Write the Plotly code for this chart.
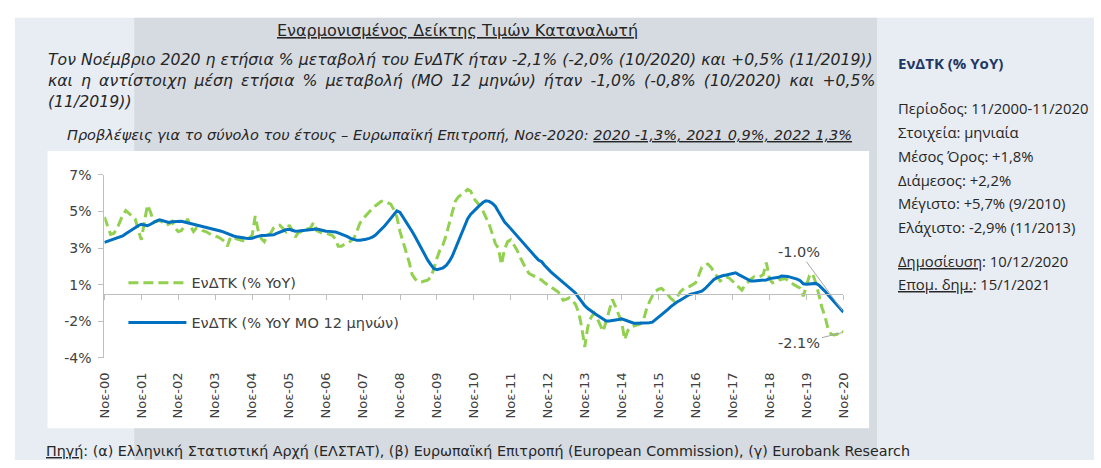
"""Greek HICP (ΕνΔΤΚ) yearly change chart with its text panel."""

import pandas as pd
import plotly.graph_objects as go

FIG_W = 1101
FIG_H = 468

START_MONTH = "2000-11-01"

# ΕνΔΤΚ % YoY, monthly from 11/2000 to 11/2020
HICP_YOY = [
    4.20, 3.70, 3.25, 3.30, 3.50, 3.90, 4.30, 4.55, 4.40, 4.25, 4.10, 3.50,
    2.95, 3.90, 4.85, 4.45, 3.95, 3.95, 4.00, 3.90, 3.75, 3.80, 3.95, 3.60,
    3.40, 3.45, 3.70, 4.10, 3.70, 3.40, 3.60, 3.55, 3.45, 3.40, 3.30, 3.20,
    3.15, 3.10, 3.00, 2.85, 2.60, 3.10, 3.05, 3.00, 2.95, 2.90, 2.90, 3.05,
    3.20, 4.25, 3.40, 3.00, 2.85, 3.20, 3.30, 3.60, 3.70, 3.75, 3.55, 3.40,
    3.75, 3.50, 3.10, 3.35, 3.40, 3.50, 3.55, 3.60, 3.90, 3.45, 3.35, 3.30,
    3.30, 3.25, 3.20, 3.00, 2.60, 2.60, 2.70, 2.75, 2.85, 3.00, 3.40, 3.85,
    4.10, 4.30, 4.45, 4.65, 4.80, 4.95, 5.05, 5.06, 5.00, 4.90, 4.60, 4.20,
    3.40, 2.85, 2.30, 1.70, 1.05, 0.80, 0.65, 0.65, 0.70, 0.75, 0.90, 1.35,
    1.95, 2.40, 2.70, 3.20, 3.80, 4.50, 5.05, 5.30, 5.45, 5.55, 5.70, 5.60,
    5.20, 5.00, 4.80, 4.50, 4.20, 3.80, 3.30, 2.75, 2.50, 1.60, 2.45, 2.85,
    2.95, 2.70, 2.40, 2.00, 1.65, 1.35, 1.10, 1.00, 0.92, 0.85, 0.75, 0.60,
    0.49, 0.35, 0.25, 0.14, 0.00, -0.35, -0.30, -0.22, -0.35, -0.57, -1.00, -1.80,
    -2.90, -1.80, -1.30, -1.05, -1.30, -1.65, -2.05, -1.50, -0.92, -0.30, -0.70, -1.10,
    -1.55, -2.50, -2.00, -1.80, -1.75, -1.70, -1.65, -1.50, -0.90, -0.45, -0.10, 0.14,
    0.25, 0.30, 0.15, -0.05, -0.25, -0.39, -0.20, 0.10, 0.25, 0.35, 0.40, 0.50,
    0.60, 1.00, 1.45, 1.55, 1.63, 1.45, 1.20, 0.95, 0.70, 0.80, 0.93, 0.85,
    0.70, 0.55, 0.35, 0.20, 0.45, 0.66, 0.80, 0.93, 0.90, 0.95, 1.05, 1.71,
    0.80, 0.60, 0.65, 0.75, 0.80, 0.84, 0.75, 0.60, 0.50, 0.40, 0.30, -0.13,
    0.50, 1.00, 1.10, 0.60, 0.00, -0.74, -1.20, -1.90, -2.20, -2.25, -2.20, -2.00,
    -2.10,
]

# ΕνΔΤΚ % YoY, 12-month average
HICP_YOY_12M = [
    2.81, 2.87, 2.93, 3.00, 3.05, 3.10, 3.16, 3.28, 3.40, 3.52, 3.62, 3.72,
    3.80, 3.74, 3.72, 3.80, 3.90, 3.98, 4.04, 3.98, 3.92, 3.90, 3.93, 3.95,
    3.97, 3.96, 3.92, 3.88, 3.82, 3.80, 3.77, 3.74, 3.70, 3.65, 3.60, 3.57,
    3.54, 3.48, 3.42, 3.35, 3.28, 3.22, 3.16, 3.12, 3.08, 3.05, 3.03, 3.02,
    3.03, 3.10, 3.16, 3.19, 3.19, 3.20, 3.20, 3.22, 3.30, 3.38, 3.45, 3.50,
    3.52, 3.47, 3.42, 3.43, 3.45, 3.47, 3.48, 3.50, 3.52, 3.54, 3.50, 3.45,
    3.42, 3.41, 3.40, 3.38, 3.33, 3.27, 3.21, 3.12, 3.03, 2.96, 2.92, 2.93,
    2.95, 2.98, 3.03, 3.09, 3.20, 3.35, 3.52, 3.70, 3.90, 4.10, 4.35, 4.53,
    4.45, 4.20, 3.95, 3.70, 3.40, 3.10, 2.77, 2.45, 2.12, 1.85, 1.60, 1.38,
    1.32, 1.35, 1.42, 1.55, 1.75, 2.05, 2.45, 2.85, 3.30, 3.75, 4.10, 4.35,
    4.50, 4.68, 4.85, 5.00, 5.08, 5.05, 4.95, 4.78, 4.50, 4.20, 3.92, 3.75,
    3.55, 3.38, 3.20, 3.00, 2.80, 2.58, 2.38, 2.20, 2.03, 1.85, 1.75, 1.55,
    1.35, 1.20, 1.05, 0.90, 0.75, 0.65, 0.50, 0.35, 0.20, 0.05, -0.20, -0.45,
    -0.65, -0.80, -0.95, -1.05, -1.15, -1.25, -1.38, -1.48, -1.48, -1.46, -1.45, -1.40,
    -1.36, -1.42, -1.52, -1.58, -1.60, -1.60, -1.60, -1.58, -1.60, -1.58, -1.55, -1.42,
    -1.30, -1.15, -1.00, -0.85, -0.70, -0.55, -0.45, -0.35, -0.25, -0.12, -0.04, 0.00,
    0.05, 0.10, 0.14, 0.28, 0.45, 0.62, 0.78, 0.88, 0.95, 1.00, 1.03, 1.08,
    1.12, 1.15, 1.05, 0.95, 0.85, 0.75, 0.70, 0.70, 0.71, 0.70, 0.72, 0.76,
    0.83, 0.84, 0.86, 0.90, 0.97, 0.98, 0.95, 0.90, 0.87, 0.80, 0.72, 0.55,
    0.52, 0.55, 0.58, 0.57, 0.48, 0.33, 0.15, -0.05, -0.25, -0.45, -0.63, -0.82,
    -1.00,
]

SERIES_NAMES = ["ΕνΔΤΚ (% YoY)", "ΕνΔΤΚ (% YoY ΜΟ 12 μηνών)"]
END_LABELS = ["-2.1%", "-1.0%"]

X_TICK_TEXT = [
    "Νοε-00", "Νοε-01", "Νοε-02", "Νοε-03", "Νοε-04", "Νοε-05", "Νοε-06",
    "Νοε-07", "Νοε-08", "Νοε-09", "Νοε-10", "Νοε-11", "Νοε-12", "Νοε-13",
    "Νοε-14", "Νοε-15", "Νοε-16", "Νοε-17", "Νοε-18", "Νοε-19", "Νοε-20",
]
# the source chart has its ticks at half values and rounds the labels
Y_TICK_VALS = [-3.5, -1.5, 0.5, 2.5, 4.5, 6.5]
Y_TICK_TEXT = ["-4%", "-2%", "1%", "3%", "5%", "7%"]

TITLE = "Εναρμονισμένος Δείκτης Τιμών Καταναλωτή"
SUMMARY_LINES = [
    "Τον Νοέμβριο 2020 η ετήσια % μεταβολή του ΕνΔΤΚ ήταν -2,1% (-2,0% (10/2020) και +0,5% (11/2019))",
    "και η αντίστοιχη μέση ετήσια % μεταβολή (ΜΟ 12 μηνών) ήταν -1,0% (-0,8% (10/2020) και +0,5%",
    "(11/2019))",
]
FORECAST_TEXT = "Προβλέψεις για το σύνολο του έτους – Ευρωπαϊκή Επιτροπή, Νοε-2020: "
FORECAST_VALUES = "2020 -1,3%, 2021 0,9%, 2022 1,3%"
SIDE_HEADER = "ΕνΔΤΚ (% YoY)"
SIDE_STATS = [
    "Περίοδος: 11/2000-11/2020",
    "Στοιχεία: μηνιαία",
    "Μέσος Όρος: +1,8%",
    "Διάμεσος: +2,2%",
    "Μέγιστο: +5,7% (9/2010)",
    "Ελάχιστο: -2,9% (11/2013)",
]
SIDE_DATES = [("Δημοσίευση", ": 10/12/2020"), ("Επομ. δημ.", ": 15/1/2021")]
SOURCE_TEXT = (
    ": (α) Ελληνική Στατιστική Αρχή (ΕΛΣΤΑΤ), (β) Ευρωπαϊκή Επιτροπή "
    "(European Commission), (γ) Eurobank Research"
)

GREEN = "#92d050"
BLUE = "#0070c0"
AXIS_GREY = "#bfbfbf"
TEXT_GREY = "#404040"
FONT = "Open Sans"
WIDE = "DejaVu Sans"


def px(x: float) -> float:
    return x / FIG_W


def py(y: float) -> float:
    return 1 - y / FIG_H


def note(text, x, y, size=14, color="#262626", xanchor="left", family=FONT):
    return dict(
        text=text, x=px(x), y=py(y), xref="paper", yref="paper",
        xanchor=xanchor, yanchor="middle", showarrow=False,
        font=dict(family=family, size=size, color=color),
    )


def justify(line: str) -> str:
    # the report text is justified; widen the word gaps a little
    return line.replace(" ", " \u2009")


months = pd.date_range(START_MONTH, periods=len(HICP_YOY), freq="MS")
year_ticks = list(months[::12])

fig = go.Figure()

fig.add_trace(
    go.Scatter(
        x=months, y=HICP_YOY, name=SERIES_NAMES[0], mode="lines",
        line=dict(color=GREEN, width=3, dash="10px,5px"),
        legendgroup="a",
    )
)
fig.add_trace(
    go.Scatter(
        x=months, y=HICP_YOY_12M, name=SERIES_NAMES[1], mode="lines",
        line=dict(color=BLUE, width=3), xaxis="x2",
        legendgroup="b",
    )
)

plot_x0, plot_x1 = 97.7, 847.0
plot_top, plot_bottom = 172.7, 362.3
zero_y = 295.9

fig.update_layout(
    width=FIG_W,
    height=FIG_H,
    margin=dict(l=0, r=0, t=0, b=0),
    paper_bgcolor="white",
    plot_bgcolor="rgba(0,0,0,0)",
    font=dict(family=FONT, color=TEXT_GREY),
    xaxis=dict(
        domain=[px(plot_x0), px(plot_x1)],
        range=[months[0], months[-1]],
        tickvals=year_ticks, ticktext=X_TICK_TEXT,
        tickangle=-90, ticks="", showline=False, showgrid=False,
        zeroline=False, ticklabelstandoff=11,
        tickfont=dict(family=WIDE, size=13, color=TEXT_GREY),
    ),
    xaxis2=dict(
        overlaying="x", matches="x", anchor="free",
        position=py(zero_y),
        tickvals=year_ticks, showticklabels=False,
        ticks="outside", ticklen=5, tickcolor=AXIS_GREY,
        showline=True, linecolor=AXIS_GREY, linewidth=1,
        showgrid=False, zeroline=False,
    ),
    yaxis=dict(
        domain=[py(plot_bottom), py(plot_top)],
        range=[Y_TICK_VALS[0], Y_TICK_VALS[-1]],
        tickvals=Y_TICK_VALS, ticktext=Y_TICK_TEXT,
        ticks="outside", ticklen=5, tickcolor=AXIS_GREY,
        showline=True, linecolor=AXIS_GREY, linewidth=1,
        showgrid=False, zeroline=False, ticklabelstandoff=4,
        tickfont=dict(family=WIDE, size=14, color=TEXT_GREY),
    ),
    legend=dict(
        x=px(117), y=py(268), xanchor="left", yanchor="top",
        bgcolor="rgba(0,0,0,0)", tracegroupgap=18, itemwidth=58,
        font=dict(family=WIDE, size=14.5, color=TEXT_GREY),
    ),
    showlegend=True,
)

# background panels
fig.add_shape(type="rect", xref="paper", yref="paper", layer="below",
              x0=px(7), x1=1, y0=0, y1=py(10), line_width=0,
              fillcolor="#e8ecf3")
fig.add_shape(type="rect", xref="paper", yref="paper", layer="below",
              x0=px(128), x1=px(881), y0=0, y1=py(10), line_width=0,
              fillcolor="#d6dbe1")
fig.add_shape(type="rect", xref="paper", yref="paper", layer="below",
              x0=px(40), x1=px(873), y0=py(435), y1=py(148), line_width=0,
              fillcolor="white")

annotations = [
    note(f"<u>{TITLE}</u>", 456, 23, size=16, xanchor="center", family=WIDE),
    note(f"<i>{SUMMARY_LINES[0]}</i>", 39, 53.5, size=15.7, family=WIDE),
    note(f"<i>{justify(SUMMARY_LINES[1])}</i>", 39, 75, size=15.7, family=WIDE),
    note(f"<i>{SUMMARY_LINES[2]}</i>", 39, 96.5, size=15.7, family=WIDE),
    note(f"<i>{FORECAST_TEXT}<u>{FORECAST_VALUES}</u></i>", 458, 132,
         size=14.5, xanchor="center", family=WIDE),
    note(f"<b>{SIDE_HEADER}</b>", 900, 57, size=15, color="#1f3864"),
    note(f"<u>{SIDE_DATES[0][0]}</u>{SIDE_DATES[0][1]}", 900, 262, size=14.8),
    note(f"<u>{SIDE_DATES[1][0]}</u>{SIDE_DATES[1][1]}", 900, 286, size=14.8),
    note(f"<u>Πηγή</u>{SOURCE_TEXT}", 37, 459, size=14.3, family=WIDE),
]
for i, line in enumerate(SIDE_STATS):
    annotations.append(note(line, 900, 104 + i * 24.6, size=14.8))

# end-point labels with leader lines
annotations.append(dict(
    x=months[-1], y=HICP_YOY_12M[-1], xref="x2", yref="y",
    text=END_LABELS[1], showarrow=True, arrowhead=0, arrowwidth=1,
    arrowcolor="#a6a6a6", ax=-44, ay=-60, standoff=2,
    font=dict(family=WIDE, size=14.5, color=TEXT_GREY),
))
annotations.append(dict(
    x=months[-1], y=HICP_YOY[-1], xref="x", yref="y",
    text=END_LABELS[0], showarrow=True, arrowhead=0, arrowwidth=1,
    arrowcolor="#a6a6a6", ax=-44, ay=11, standoff=2,
    font=dict(family=WIDE, size=14.5, color=TEXT_GREY),
))

fig.update_layout(annotations=annotations)

# pin the plot to the window's top-left corner so nothing gets rescaled
PIN_PLOT = (
    "var d=document.getElementById('{plot_id}');"
    "d.style.position='fixed';d.style.left='0px';d.style.top='0px';"
    "document.documentElement.style.margin='0';"
    "document.documentElement.style.overflow='hidden';"
    "document.body.style.margin='0';document.body.style.padding='0';"
    "document.body.style.overflow='hidden';"
)
fig.write_html("out.html", config={"displayModeBar": False}, post_script=PIN_PLOT)
